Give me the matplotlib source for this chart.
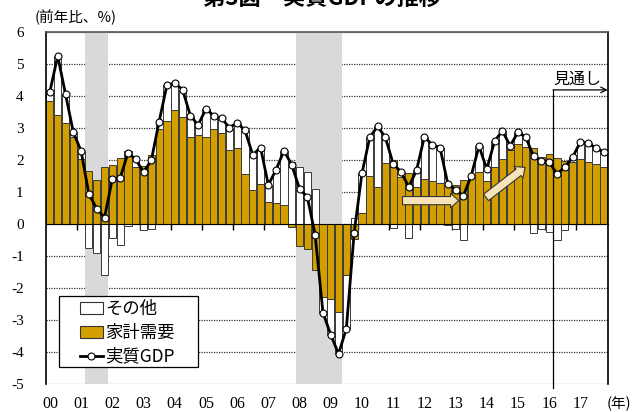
import numpy as np
import matplotlib
matplotlib.use("Agg")
import matplotlib.pyplot as plt
from matplotlib.patches import Patch, Rectangle
from matplotlib.lines import Line2D
from matplotlib.transforms import blended_transform_factory

# ---- data (2000Q1 - 2017Q4, y/y %) ----
years = ["00", "01", "02", "03", "04", "05", "06", "07", "08", "09",
         "10", "11", "12", "13", "14", "15", "16", "17"]
household = [3.85, 3.41, 3.17, 2.74, 2.03, 1.67, 1.40, 1.78, 1.85, 2.08,
             2.28, 1.80, 1.82, 2.16, 2.98, 3.24, 3.57, 3.35, 2.73, 2.79,
             2.74, 2.97, 2.86, 2.32, 2.39, 1.56, 1.06, 1.26, 0.69, 0.66,
             0.60, -0.08, -0.68, -0.77, -1.43, -2.26, -2.34, -2.74, -1.58, -0.47,
             0.34, 1.52, 1.17, 1.93, 2.00, 1.47, 1.59, 1.16, 1.41, 1.36,
             1.28, 1.28, 1.22, 1.38, 1.45, 1.64, 1.34, 1.78, 2.05, 2.32,
             2.50, 2.43, 2.40, 2.11, 2.19, 2.06, 1.98, 1.96, 2.03, 1.94,
             1.89, 1.80]
other = [0.30, 1.85, 0.90, 0.14, 0.26, -0.73, -0.91, -1.57, -0.43, -0.64,
         -0.05, 0.23, -0.19, -0.16, 0.23, 1.11, 0.84, 0.86, 0.67, 0.31,
         0.87, 0.42, 0.46, 0.70, 0.78, 1.38, 1.11, 1.14, 0.54, 1.05,
         1.70, 1.94, 1.79, 1.62, 1.10, -0.50, -1.11, -1.31, -1.68, 0.21,
         1.25, 1.20, 1.89, 0.79, -0.11, 0.17, -0.42, 0.53, 1.33, 1.12,
         1.12, -0.01, -0.14, -0.49, 0.06, 0.81, 0.38, 0.82, 0.87, 0.13,
         0.38, 0.29, -0.28, -0.14, -0.24, -0.49, -0.19, 0.13, 0.55, 0.59,
         0.49, 0.45]
gdp = [4.15, 5.26, 4.07, 2.88, 2.29, 0.94, 0.49, 0.21, 1.42, 1.44,
       2.23, 2.03, 1.63, 2.00, 3.21, 4.35, 4.41, 4.21, 3.40, 3.10,
       3.61, 3.39, 3.32, 3.02, 3.17, 2.94, 2.17, 2.40, 1.23, 1.71,
       2.30, 1.86, 1.11, 0.85, -0.33, -2.76, -3.45, -4.05, -3.26, -0.26,
       1.59, 2.72, 3.06, 2.72, 1.89, 1.64, 1.17, 1.69, 2.74, 2.48,
       2.40, 1.27, 1.08, 0.89, 1.51, 2.45, 1.72, 2.60, 2.92, 2.45,
       2.88, 2.72, 2.12, 1.97, 1.95, 1.57, 1.79, 2.09, 2.58, 2.53,
       2.38, 2.25]
# recession periods (first and last quarter index)
recessions = [(5, 7), (32, 37)]
forecast_start = 65  # 2016Q2

GOLD = "#D29E00"
CREAM = "#F7E3BA"
JP = ["Noto Sans CJK JP", "DejaVu Sans"]
SERIF = ["Liberation Serif", "DejaVu Serif"]

fig = plt.figure(figsize=(6.34, 4.12), dpi=100)
ax = fig.add_axes([46 / 634, 1 - 384.3 / 412, 561.7 / 634, 352 / 412])

n = len(household)
x = np.arange(n)
hh = np.array(household)
ot = np.array(other)
bottom_other = np.where(np.sign(hh) == np.sign(ot), hh, 0.0)

for a, b in recessions:
    ax.axvspan(a - 0.5, b + 0.5, color="#D9D9D9", lw=0, zorder=0.8)

ax.bar(x, hh, width=0.92, color=GOLD, edgecolor="#3A3A3A", linewidth=0.7, zorder=2)
ax.bar(x, ot, bottom=bottom_other, width=0.92, color="white",
       edgecolor="#3A3A3A", linewidth=0.7, zorder=2)
ax.plot(x, gdp, color="black", lw=2, marker="o", ms=5, mfc="white",
        mec="black", mew=0.8, zorder=3)

ax.set_xlim(-0.5, n - 0.5)
ax.set_ylim(-5, 6)
ax.set_yticks(range(-5, 7))
ax.set_yticklabels([str(v) for v in range(-5, 7)], fontfamily=SERIF, fontsize=11)
ax.tick_params(axis="y", length=0, pad=16)
ax.yaxis.grid(True, linestyle=(0, (1, 1)), color="#333333", lw=0.9)
ax.set_axisbelow(True)

ax.spines["bottom"].set_position(("data", 0))
ax.spines["bottom"].set_zorder(4)
ax.set_xticks(np.arange(3.5, n - 1, 4))
ax.set_xticklabels([])
ax.tick_params(axis="x", length=4, direction="out", width=1)
for s in ["left", "right", "top"]:
    ax.spines[s].set_linewidth(1.2)
ax.spines["top"].set_color("#555555")

tr = blended_transform_factory(ax.transData, ax.transAxes)
for i, y in enumerate(years):
    ax.text(4 * i, -0.055, y, transform=tr, ha="center", va="center",
            fontfamily=SERIF, fontsize=11.5)
ax.text(n + 1.0, -0.055, "(年)", transform=tr, ha="center", va="center",
        fontfamily=JP, fontsize=10.5, clip_on=False)

fig.text(35 / 634, 1 - 17 / 412, "(前年比、%)", fontfamily=JP, fontsize=10.5,
         ha="left", va="center")
fig.text(322 / 634, 1 - 5 / 412, "第3図　実質GDPの推移", fontfamily=JP,
         fontsize=16, fontweight="bold", ha="center", va="baseline")

# forecast marker
fx = forecast_start - 0.5
ax.plot([fx, fx], [-5.12, 4.2], color="black", lw=0.9, clip_on=False, zorder=4)
ax.annotate("", xy=(n - 0.5, 4.2), xytext=(fx, 4.2),
            arrowprops=dict(arrowstyle="->", lw=0.9, color="black",
                            shrinkA=0, shrinkB=0), zorder=4)
ax.text(fx + 3.1, 4.52, "見通し", fontfamily=JP, fontsize=11.5,
        ha="center", va="center", zorder=4)

# trend arrows
astyle = "simple,head_length=0.42,head_width=0.75,tail_width=0.42"
ax.annotate("", xy=(52.4, 0.74), xytext=(45.2, 0.74),
            arrowprops=dict(arrowstyle=astyle, fc=CREAM, ec="#333333", lw=0.8,
                            mutation_scale=14, shrinkA=0, shrinkB=0), zorder=5)
ax.annotate("", xy=(60.9, 1.78), xytext=(55.9, 0.84),
            arrowprops=dict(arrowstyle=astyle, fc=CREAM, ec="#333333", lw=0.8,
                            mutation_scale=14, shrinkA=0, shrinkB=0), zorder=5)

# legend: frame box drawn separately for exact padding
ax.add_patch(Rectangle((0.0231, 0.049), 0.2475, 0.202, transform=ax.transAxes,
                       facecolor="white", edgecolor="black", lw=0.9, zorder=6))
handles = [Patch(facecolor="white", edgecolor="#333333", lw=0.8),
           Patch(facecolor=GOLD, edgecolor="#333333", lw=0.8),
           Line2D([], [], color="black", lw=2, marker="o", ms=5, mfc="white",
                  mec="black", mew=0.8)]
leg = ax.legend(handles, ["その他", "家計需要", "実質GDP"], loc="upper left",
                bbox_to_anchor=(0.0605, 0.239), prop={"family": JP, "size": 12.5},
                frameon=False, handlelength=1.3, handleheight=0.7,
                handletextpad=0.15, labelspacing=0.33, borderpad=0,
                borderaxespad=0)
leg.set_zorder(7)

fig.savefig("out.png", dpi=100)
